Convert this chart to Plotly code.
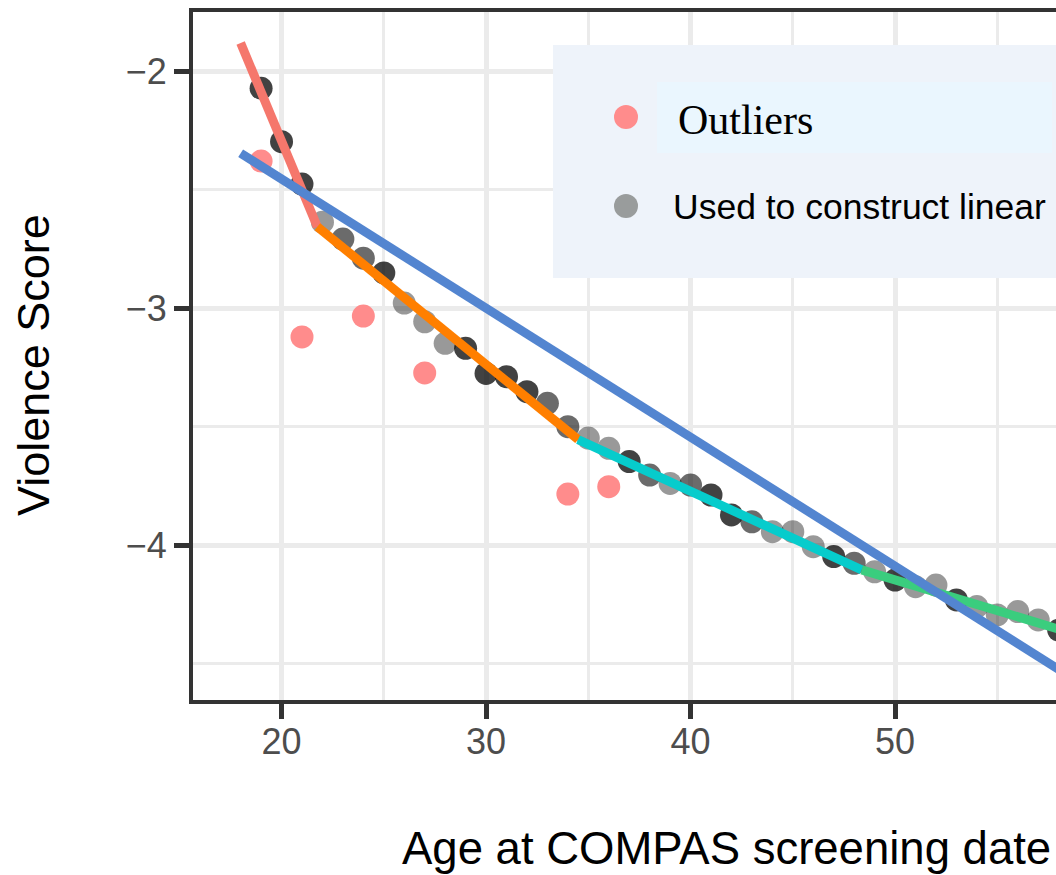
import plotly.graph_objects as go

# ---- data ----
ages = list(range(19, 59))
scores = [-2.073, -2.298, -2.477, -2.638, -2.709, -2.79, -2.852, -2.979, -3.058, -3.149,
          -3.170, -3.276, -3.290, -3.353, -3.402, -3.501, -3.549, -3.592, -3.648, -3.705,
          -3.740, -3.747, -3.789, -3.873, -3.902, -3.944, -3.944, -4.007, -4.049, -4.077,
          -4.113, -4.148, -4.176, -4.169, -4.232, -4.260, -4.295, -4.281, -4.316, -4.359]
# relative point weight (3 = dark, 2 = medium, 1 = light)
point_weight = [3, 3, 3, 1, 2, 2, 3, 1, 1, 1,
                3, 3, 3, 3, 2, 2, 1, 1, 3, 2,
                1, 2, 3, 3, 2, 1, 1, 1, 3, 2,
                1, 3, 1, 1, 3, 1, 1, 1, 1, 3]

outlier_ages = [19, 21, 24, 27, 34, 36]
outlier_scores = [-2.38, -3.122, -3.034, -3.274, -3.785, -3.754]

seg1_x, seg1_y = [18.0, 21.75], [-1.882, -2.657]
seg2_x, seg2_y = [21.75, 34.5], [-2.657, -3.555]
seg3_x, seg3_y = [34.5, 48.37], [-3.555, -4.105]
seg4_x, seg4_y = [48.37, 60.0], [-4.105, -4.407]
lin_x, lin_y = [18.0, 60.0], [-2.347, -4.634]

x_ticks = [20, 30, 40, 50]
y_ticks = [-2, -3, -4]

legend_labels = ["Outliers", "Used to construct linear"]

# ---- styling ----
shade = {3: "rgba(0,0,0,0.74)", 2: "rgba(0,0,0,0.58)", 1: "rgba(0,0,0,0.40)"}
point_colors = [shade[w] for w in point_weight]

fig = go.Figure()
fig.add_trace(go.Scatter(x=ages, y=scores, mode="markers",
                         marker=dict(size=23, color=point_colors, line=dict(width=0)),
                         showlegend=False))
fig.add_trace(go.Scatter(x=outlier_ages, y=outlier_scores, mode="markers",
                         marker=dict(size=23, color="#FF8C8C", line=dict(width=0)),
                         showlegend=False))
for xs, ys, col in [(seg1_x, seg1_y, "#F5776C"), (seg2_x, seg2_y, "#FF7F00"),
                    (seg3_x, seg3_y, "#06CCCC"), (seg4_x, seg4_y, "#3ACD7E"),
                    (lin_x, lin_y, "#5385D0")]:
    fig.add_trace(go.Scatter(x=xs, y=ys, mode="lines",
                             line=dict(color=col, width=9), showlegend=False))

W, H = 1056, 875
L, T, B = 193, 12, 175
pw = W - L
ph = H - T - B


def px(xpix):
    return (xpix - L) / pw


def py(ypix):
    return (H - B - ypix) / ph


axis_common = dict(
    showline=True, linecolor="#333333", linewidth=4,
    ticks="outside", ticklen=15, tickwidth=5, tickcolor="#333333",
    tickfont=dict(family="Liberation Sans, Arial, sans-serif", size=36, color="#4D4D4D"),
    showgrid=True, gridcolor="#EBEBEB", gridwidth=4.5, zeroline=False,
)

fig.update_layout(
    width=W, height=H,
    margin=dict(l=L, r=0, t=T, b=B, pad=0),
    plot_bgcolor="white", paper_bgcolor="white",
    showlegend=False,
    xaxis=dict(range=[15.67, 57.87], tickvals=x_ticks, mirror=True,
               ticklabelstandoff=-8,
               minor=dict(tickvals=[15, 25, 35, 45, 55], showgrid=True,
                          gridcolor="#EBEBEB", gridwidth=2.5, ticks=""),
               **axis_common),
    yaxis=dict(range=[-4.654, -1.751], tickvals=y_ticks,
               minor=dict(tickvals=[-2.5, -3.5, -4.5], showgrid=True,
                          gridcolor="#EBEBEB", gridwidth=2.5, ticks=""),
               **axis_common),
)

# legend box drawn as shapes
fig.add_shape(type="rect", xref="paper", yref="paper",
              x0=px(553), x1=px(1200), y0=py(278), y1=py(45),
              fillcolor="#EEF3FA", line=dict(width=0), layer="above")
fig.add_shape(type="rect", xref="paper", yref="paper",
              x0=px(657), x1=px(1052), y0=py(153), y1=py(82),
              fillcolor="#EAF6FE", line=dict(width=0), layer="above")
for ycen, col in [(117, "#FF8C8C"), (206, "#999C9C")]:
    fig.add_shape(type="circle", xref="paper", yref="paper",
                  xsizemode="pixel", ysizemode="pixel",
                  xanchor=px(626), yanchor=py(ycen),
                  x0=-12, x1=12, y0=-12, y1=12,
                  fillcolor=col, line=dict(width=0), layer="above")

fig.add_annotation(text=legend_labels[0], xref="paper", yref="paper",
                   x=px(676), y=py(120), xanchor="left", yanchor="middle", showarrow=False,
                   font=dict(family="Liberation Serif, Times New Roman, serif", size=42, color="black"))
fig.add_annotation(text=legend_labels[1], xref="paper", yref="paper",
                   x=px(671), y=py(207), xanchor="left", yanchor="middle", showarrow=False,
                   font=dict(family="Liberation Sans, Arial, sans-serif", size=35.5, color="black"))

# axis titles
fig.add_annotation(text="Age at COMPAS screening date", xref="paper", yref="paper",
                   x=px(726), y=py(848), xanchor="center", yanchor="middle", showarrow=False,
                   font=dict(family="Liberation Sans, Arial, sans-serif", size=45.5, color="black"))
fig.add_annotation(text="Violence Score", xref="paper", yref="paper",
                   x=px(33), y=py(365), xanchor="center", yanchor="middle", showarrow=False,
                   textangle=-90,
                   font=dict(family="Liberation Sans, Arial, sans-serif", size=45, color="black"))

fig.write_html("out.html")
